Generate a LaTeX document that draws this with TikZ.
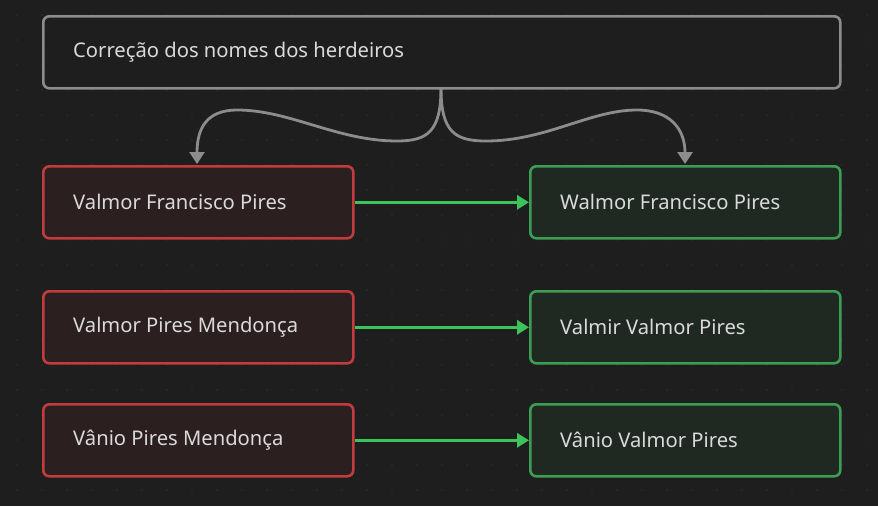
\documentclass[tikz,border=0pt]{standalone}
\usepackage{fontspec}
\setmainfont{Noto Sans}
\usetikzlibrary{arrows.meta}
\definecolor{bg}{HTML}{1E1E1E}
\definecolor{dotc}{HTML}{2E2E2E}
\definecolor{txt}{HTML}{DADADA}
\definecolor{grayline}{HTML}{8C8C8C}
\definecolor{redline}{HTML}{C23B3E}
\definecolor{redfill}{HTML}{2C1F1F}
\definecolor{greenline}{HTML}{3C9E55}
\definecolor{greenfill}{HTML}{1F2922}
\definecolor{arrowgreen}{HTML}{3CC45A}
\tikzset{
  x=1pt, y=-1pt,
  basebox/.style={draw, line width=2.6pt, rounded corners=6pt, minimum height=72pt,
    anchor=north west, inner sep=0pt},
  topbox/.style={basebox, draw=grayline, fill=bg, minimum width=797pt},
  oldbox/.style={basebox, draw=redline, fill=redfill, minimum width=310pt},
  newbox/.style={basebox, draw=greenline, fill=greenfill, minimum width=310pt},
  fixarrow/.style={draw=arrowgreen, line width=3pt, -{Triangle[length=12pt,width=14pt]}},
  splitarrow/.style={draw=grayline, line width=2.8pt, -{Triangle[length=12pt,width=15pt]}},
  lbl/.style={anchor=west, text=txt, font=\fontsize{20.2}{24}\selectfont, inner sep=0pt}
}
\begin{document}
\begin{tikzpicture}
\fill[bg] (0,0) rectangle (878,506);
\useasboundingbox (0,0) rectangle (878,506);
\foreach \i in {0,...,34} {
  \foreach \j in {0,...,20} {
    \fill[dotc] (17+25*\i, 15+25*\j) circle (0.9pt);
  }
}
% boxes
\node[topbox] (top) at (42,15) {};
\node[oldbox] (o1) at (42,165) {};
\node[oldbox] (o2) at (42,290) {};
\node[oldbox] (o3) at (42,403) {};
\node[newbox] (n1) at (529,165) {};
\node[newbox] (n2) at (529,290) {};
\node[newbox] (n3) at (529,403) {};
% labels
\node[lbl] (ttop) at ([xshift=31pt]top.west) {Correção dos nomes dos herdeiros};
\node[lbl] (to1) at ([xshift=31pt]o1.west) {Valmor Francisco Pires};
\node[lbl] (to2) at ([xshift=31pt]o2.west) {Valmor Pires Mendonça};
\node[lbl] (to3) at ([xshift=31pt]o3.west) {Vânio Pires Mendonça};
\node[lbl] (tn1) at ([xshift=31pt]n1.west) {Walmor Francisco Pires};
\node[lbl] (tn2) at ([xshift=31pt]n2.west) {Valmir Valmor Pires};
\node[lbl] (tn3) at ([xshift=31pt]n3.west) {Vânio Valmor Pires};
% green arrows
\draw[fixarrow] (o1.east) -- (n1.west);
\draw[fixarrow] (o2.east) -- (n2.west);
\draw[fixarrow] (o3.east) -- (n3.west);
% split curves
\coordinate (s) at (441,88);
\coordinate (lt) at (197,164);
\coordinate (rt) at (685,164);
\draw[splitarrow] (s) .. controls (441,132) and (427,141) .. (397,141)
  .. controls (337,141) and (290,110) .. (237,110)
  .. controls (207,110) and (197,128) .. (lt);
\draw[splitarrow] (s) .. controls (441,132) and (455,141) .. (486,141)
  .. controls (546,141) and (590,110) .. (637,110)
  .. controls (669,110) and (685,128) .. (rt);
\end{tikzpicture}
\end{document}
